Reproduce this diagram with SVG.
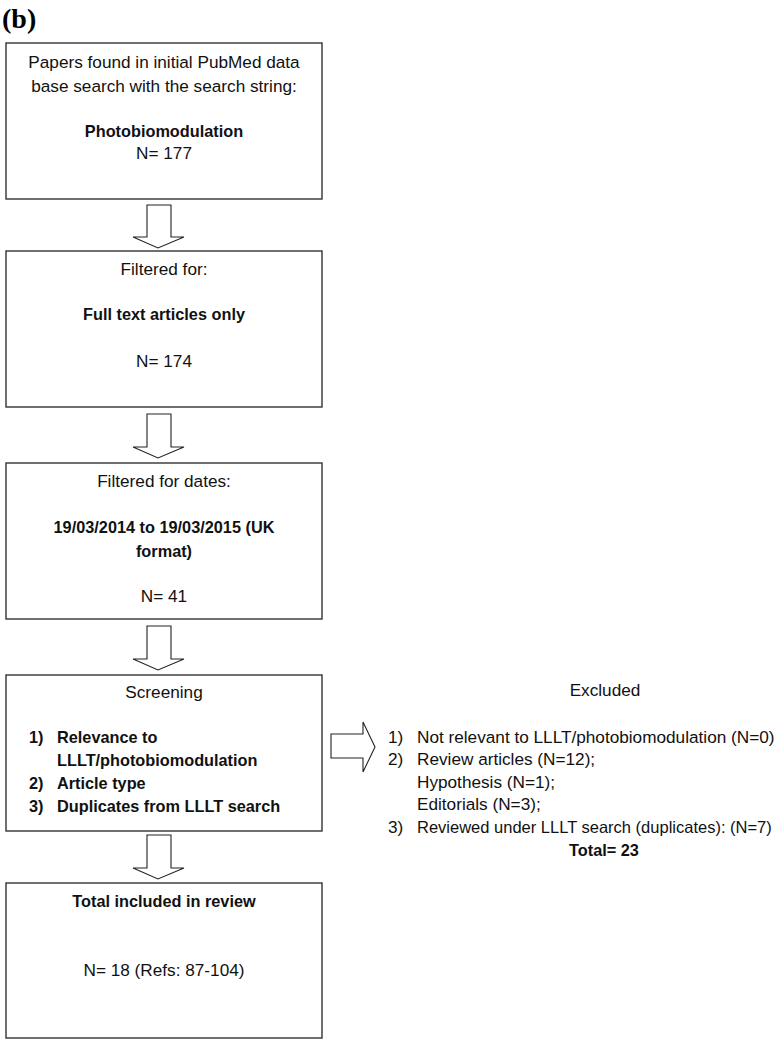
<svg xmlns="http://www.w3.org/2000/svg" width="780" height="1040" viewBox="0 0 780 1040">
<style>
.box{fill:#fff;stroke:#333;stroke-width:1.4}
.arr{fill:#fff;stroke:#222;stroke-width:1.1;stroke-linejoin:miter}
text{font-family:"Liberation Sans",Arial,sans-serif;font-size:17.2px;fill:#111}
.c{text-anchor:middle}
.b{font-weight:bold;font-size:16.3px}
.title{font-family:"Liberation Serif","Times New Roman",serif;font-size:28px;font-weight:bold;fill:#000}
</style>
<rect width="780" height="1040" fill="#fff"/>
<text class="title" x="2" y="28">(b)</text>
<g id="connectors">
<path class="arr" d="M147,205 H171 V237 H184 L158,248 L133,237 H147 Z"/>
<path class="arr" d="M147,414 H171 V447 H184 L158,458 L133,447 H147 Z"/>
<path class="arr" d="M147,626 H171 V659 H184 L158,670 L133,659 H147 Z"/>
<path class="arr" d="M147,835 H171 V868 H184 L158,879 L133,868 H147 Z"/>
<path class="arr" d="M331,734 V758 H363 V772 L375,747 L363,722 V734 Z"/>
</g>
<g id="node1">
<rect class="box" x="6" y="43" width="316" height="156"/>
<text class="c" x="164" y="68">Papers found in initial PubMed data</text>
<text class="c" x="164" y="92">base search with the search string:</text>
<text class="c b" x="164" y="137">Photobiomodulation</text>
<text class="c" x="164" y="159">N= 177</text>
</g>
<g id="node2">
<rect class="box" x="6" y="251" width="316" height="156"/>
<text class="c" x="164" y="275">Filtered for:</text>
<text class="c b" x="164" y="320">Full text articles only</text>
<text class="c" x="164" y="367">N= 174</text>
</g>
<g id="node3">
<rect class="box" x="6" y="463" width="316" height="156"/>
<text class="c" x="164" y="487">Filtered for dates:</text>
<text class="c b" x="164" y="533">19/03/2014 to 19/03/2015 (UK</text>
<text class="c b" x="164" y="557">format)</text>
<text class="c" x="164" y="602">N= 41</text>
</g>
<g id="node4">
<rect class="box" x="6" y="675" width="316" height="156"/>
<text class="c" x="164" y="698">Screening</text>
<text class="b" x="29" y="743">1)</text>
<text class="b" x="57" y="743">Relevance to</text>
<text class="b" x="57" y="766">LLLT/photobiomodulation</text>
<text class="b" x="29" y="789">2)</text>
<text class="b" x="57" y="789">Article type</text>
<text class="b" x="29" y="812">3)</text>
<text class="b" x="57" y="812">Duplicates from LLLT search</text>
</g>
<g id="node5">
<rect class="box" x="6" y="883" width="316" height="155"/>
<text class="c b" x="164" y="907">Total included in review</text>
<text class="c" x="164" y="976">N= 18 (Refs: 87-104)</text>
</g>
<g id="excluded">
<text class="c" x="605" y="696">Excluded</text>
<text x="388" y="743">1)</text>
<text x="417" y="743">Not relevant to LLLT/photobiomodulation (N=0)</text>
<text x="388" y="765">2)</text>
<text x="417" y="765">Review articles (N=12);</text>
<text x="417" y="788">Hypothesis (N=1);</text>
<text x="417" y="810">Editorials (N=3);</text>
<text x="388" y="833">3)</text>
<text x="417" y="833" style="font-size:16.5px">Reviewed under LLLT search (duplicates): (N=7)</text>
<text class="c b" x="604" y="856">Total= 23</text>
</g>
</svg>
